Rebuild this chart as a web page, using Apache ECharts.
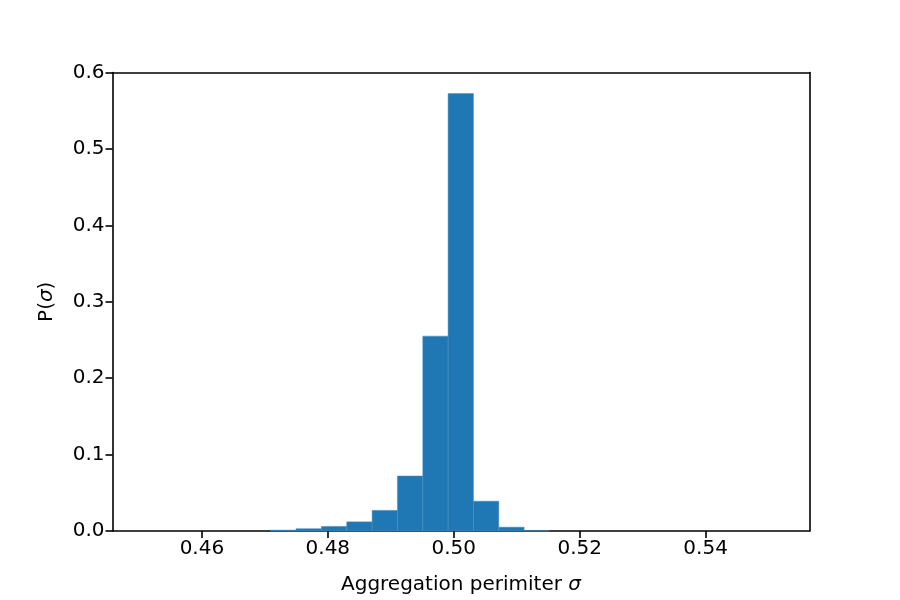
<!DOCTYPE html>
<html>
<head>
<meta charset="utf-8">
<script src="https://cdn.jsdelivr.net/npm/echarts@6/dist/echarts.min.js"></script>
<style>html,body{margin:0;padding:0;background:#fff}#c{width:900px;height:600px}</style>
</head>
<body>
<div id="c"></div>
<script>
// Histogram bin edges (26 edges -> 25 bins)
const binEdges = [0.4508, 0.45483, 0.45885, 0.46288, 0.4669, 0.47093, 0.47495, 0.47898, 0.483, 0.48703,
  0.49105, 0.49508, 0.4991, 0.50313, 0.50715, 0.51118, 0.5152, 0.51923, 0.52325, 0.52728,
  0.5313, 0.53533, 0.53935, 0.54338, 0.5474, 0.55143];
// P(sigma) per bin
const probs = [0, 0, 0, 0, 0, 0.0012, 0.003, 0.006, 0.012, 0.027,
  0.072, 0.255, 0.5725, 0.039, 0.005, 0.0003, 0, 0, 0, 0,
  0, 0, 0, 0, 0];
const xTicks = [0.46, 0.48, 0.50, 0.52, 0.54];
const yTicks = [0.0, 0.1, 0.2, 0.3, 0.4, 0.5, 0.6];

const data = probs.map((p, i) => [binEdges[i], binEdges[i + 1], p]);
const font = 'DejaVu Sans';
const chart = echarts.init(document.getElementById('c'), null, {renderer: 'canvas'});
chart.setOption({
  animation: false,
  backgroundColor: '#fff',
  textStyle: {fontFamily: font, color: '#000'},
  grid: {left: 112.5, right: 90.5, top: 72.5, bottom: 66, containLabel: false},
  xAxis: [{
    type: 'value', min: 0.4458, max: 0.5565, position: 'bottom',
    axisLine: {show: true, onZero: false, lineStyle: {color: '#000', width: 1.6}},
    axisTick: {show: true, inside: false, length: 7, lineStyle: {color: '#000', width: 1.6}, customValues: xTicks},
    axisLabel: {show: true, margin: 8, color: '#000', fontSize: 20, fontFamily: font, customValues: xTicks,
      formatter: v => v.toFixed(2)},
    splitLine: {show: false},
    name: 'Aggregation perimiter {i|σ}', nameLocation: 'middle', nameGap: 44,
    nameTextStyle: {fontSize: 20, color: '#000', fontFamily: font, rich: {i: {fontStyle: 'italic', fontSize: 20, fontFamily: font}}}
  }, {
    type: 'value', min: 0.4458, max: 0.5565, position: 'top',
    axisLine: {show: true, onZero: false, lineStyle: {color: '#000', width: 1.6}},
    axisTick: {show: false}, axisLabel: {show: false}, splitLine: {show: false}
  }],
  yAxis: [{
    type: 'value', min: 0, max: 0.6, interval: 0.1, position: 'left',
    axisLine: {show: true, onZero: false, lineStyle: {color: '#000', width: 1.6}},
    axisTick: {show: true, inside: false, length: 7, lineStyle: {color: '#000', width: 1.6}, customValues: yTicks},
    axisLabel: {show: true, margin: 8, color: '#000', fontSize: 20, fontFamily: font, customValues: yTicks,
      formatter: v => v.toFixed(1)},
    splitLine: {show: false},
    name: 'P({i|σ})', nameLocation: 'middle', nameGap: 56, nameRotate: 90,
    nameTextStyle: {fontSize: 20, color: '#000', fontFamily: font, rich: {i: {fontStyle: 'italic', fontSize: 20, fontFamily: font}}}
  }, {
    type: 'value', min: 0, max: 0.6, position: 'right',
    axisLine: {show: true, onZero: false, lineStyle: {color: '#000', width: 1.6}},
    axisTick: {show: false}, axisLabel: {show: false}, splitLine: {show: false}
  }],
  series: [{
    type: 'custom',
    xAxisIndex: 0, yAxisIndex: 0,
    data: data,
    encode: {x: [0, 1], y: 2},
    renderItem: function (params, api) {
      const v = api.value(2);
      if (!(v > 0)) return null;
      const p1 = api.coord([api.value(0), v]);
      const p2 = api.coord([api.value(1), 0]);
      return {
        type: 'rect',
        shape: {x: p1[0], y: p1[1], width: p2[0] - p1[0], height: p2[1] - p1[1]},
        style: {fill: '#1f77b4', stroke: '#4a90c6', lineWidth: 0.5}
      };
    }
  }]
});
</script>
</body>
</html>
